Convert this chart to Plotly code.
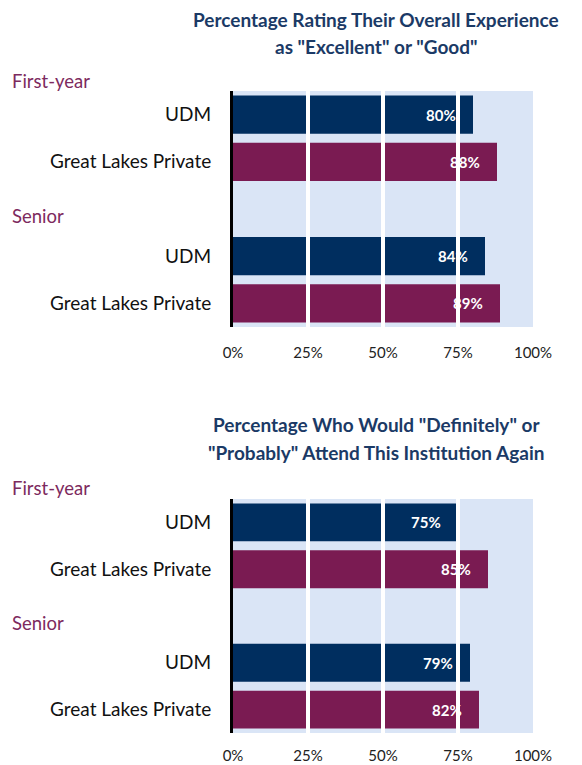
import plotly.graph_objects as go

# ---- data ----
categories = ["UDM", "Great Lakes Private", "UDM", "Great Lakes Private"]
slots = [0, 1, 3, 4]            # category slot positions (slot 2 left empty between groups)
groups = ["First-year", "Senior"]

experience_values = [80, 88, 84, 89]
attend_values = [75, 85, 79, 82]

title_lines = [
    ['Percentage Rating Their Overall Experience', 'as "Excellent" or "Good"'],
    ['Percentage Who Would "Definitely" or', '"Probably" Attend This Institution Again'],
]
tick_vals = [0, 25, 50, 75, 100]
tick_text = ["0%", "25%", "50%", "75%", "100%"]

# ---- style ----
NAVY = "#002E5F"
MAROON = "#7A1B52"
BG = "#DAE5F6"
TITLE = "#1B3A66"
GROUPC = "#7D2A5E"
FONT = "Lato"
bar_colors = [NAVY, MAROON, NAVY, MAROON]

W, H = 582, 765
OFF = 8  # page body margin offset


def px_x(x):
    return (x - OFF) / W


def px_y(y):
    return 1 - (y - OFF) / H


x_dom = [px_x(233), px_x(533)]
y_doms = [[px_y(327), px_y(91)], [px_y(733), px_y(499)]]

fig = go.Figure()
datasets = [experience_values, attend_values]
for i, vals in enumerate(datasets):
    xa = "x" if i == 0 else "x2"
    ya = "y" if i == 0 else "y2"
    fig.add_trace(go.Bar(
        x=vals, y=slots, orientation="h",
        marker=dict(color=bar_colors, line=dict(width=0)),
        xaxis=xa, yaxis=ya, showlegend=False, hoverinfo="skip",
    ))
    # white gridlines drawn above bars
    for gv in tick_vals[1:-1]:
        fig.add_shape(type="line", xref=xa, yref=f"{ya} domain",
                      x0=gv, x1=gv, y0=0, y1=1, layer="above",
                      line=dict(color="white", width=4))
    # value labels
    for v, s in zip(vals, slots):
        fig.add_annotation(x=v, y=s, xref=xa, yref=ya, text=f"<b>{v}%</b>",
                           showarrow=False, xanchor="right", xshift=-15,
                           font=dict(family=FONT, size=15, color="white"))

layout_common_x = dict(range=[0, 100], domain=x_dom, tickvals=tick_vals, ticktext=tick_text,
                       showgrid=False, zeroline=False, showline=False, automargin=False,
                       tickfont=dict(family=FONT, size=15, color="#222222"),
                       ticks="", fixedrange=True)
layout_common_y = dict(range=[4.5, -0.5], tickvals=slots, ticktext=categories,
                       showgrid=False, zeroline=False, showline=True, automargin=False,
                       linecolor="black", linewidth=3,
                       tickfont=dict(family=FONT, size=19, color="#111111"),
                       ticks="", ticklabelstandoff=15, fixedrange=True)

fig.update_layout(
    width=W, height=H,
    margin=dict(l=0, r=0, t=0, b=0, autoexpand=False),
    paper_bgcolor="white", plot_bgcolor=BG,
    bargap=0.19,
    xaxis=dict(**layout_common_x, anchor="y", ticklabelstandoff=15),
    yaxis=dict(**layout_common_y, domain=y_doms[0], anchor="x"),
    xaxis2=dict(**layout_common_x, anchor="y2", ticklabelstandoff=12),
    yaxis2=dict(**layout_common_y, domain=y_doms[1], anchor="x2"),
)

# titles (one annotation per line)
title_y = [[20, 46], [425, 452]]
for lines, ys in zip(title_lines, title_y):
    for line, yy in zip(lines, ys):
        fig.add_annotation(text=f"<b>{line}</b>", xref="paper", yref="paper",
                           x=px_x(376), y=px_y(yy), xanchor="center", yanchor="middle",
                           showarrow=False, align="center",
                           font=dict(family=FONT, size=19, color=TITLE))

# group labels
group_y = [[81, 216], [488, 623]]
for gy in group_y:
    for g, yy in zip(groups, gy):
        fig.add_annotation(text=g, xref="paper", yref="paper",
                           x=px_x(10), y=px_y(yy), xanchor="left", yanchor="middle",
                           showarrow=False,
                           font=dict(family=FONT, size=18.5, color=GROUPC))

fig.write_html("out.html")
